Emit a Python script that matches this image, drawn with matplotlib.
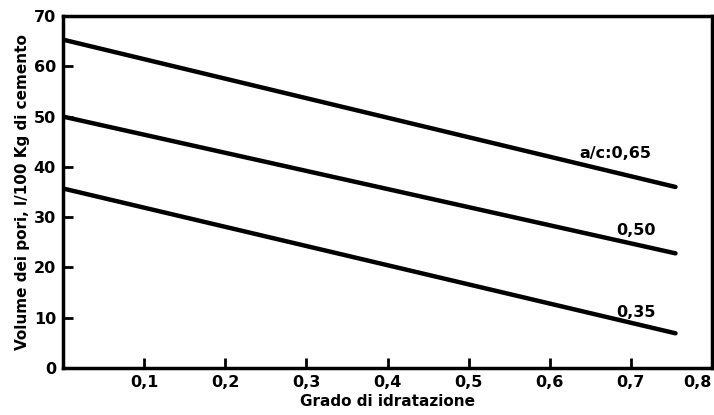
import matplotlib
matplotlib.use("Agg")
import matplotlib.pyplot as plt

# Data
x_start, x_end = 0.0, 0.755
ratios = ["a/c:0,65", "0,50", "0,35"]
y_start = [65.3, 50.0, 35.7]
y_end = [36.0, 22.8, 6.9]
label_x = [0.681, 0.706, 0.706]
label_y = [42.7, 27.4, 11.1]
xticks = [0.1, 0.2, 0.3, 0.4, 0.5, 0.6, 0.7, 0.8]
xticklabels = ["0,1", "0,2", "0,3", "0,4", "0,5", "0,6", "0,7", "0,8"]
yticks = [0, 10, 20, 30, 40, 50, 60, 70]

plt.rcParams['font.family'] = ['DejaVu Sans']
fig = plt.figure(figsize=(7.14, 4.15), dpi=100)
ax = fig.add_axes([63/714, 1-368/415, (712-63)/714, (368-16)/415])

for ys, ye, lab, lx, ly in zip(y_start, y_end, ratios, label_x, label_y):
    ax.plot([x_start, x_end], [ys, ye], color='black', lw=3.2, solid_capstyle='round')
    ax.text(lx, ly, lab, fontsize=11.5, fontweight='bold', ha='center', va='center')

ax.set_xlim(0, 0.798)
ax.set_ylim(0, 70)
ax.set_xticks(xticks)
ax.set_xticklabels(xticklabels, fontsize=11.5, fontweight='bold')
ax.get_xticklabels()[-1].set_horizontalalignment('right')
ax.set_yticks(yticks)
ax.set_yticklabels([str(v) for v in yticks], fontsize=11.5, fontweight='bold')
ax.tick_params(direction='in', length=7, width=2, pad=5)
ax.xaxis.get_major_ticks()[-1].tick1line.set_visible(False)
for s in ax.spines.values():
    s.set_linewidth(2.5)
ax.set_xlabel("Grado di idratazione", fontsize=11, fontweight='bold', labelpad=3)
ax.set_ylabel("Volume dei pori, l/100 Kg di cemento", fontsize=11, fontweight='bold', labelpad=3)

fig.savefig("out.png", dpi=100)
